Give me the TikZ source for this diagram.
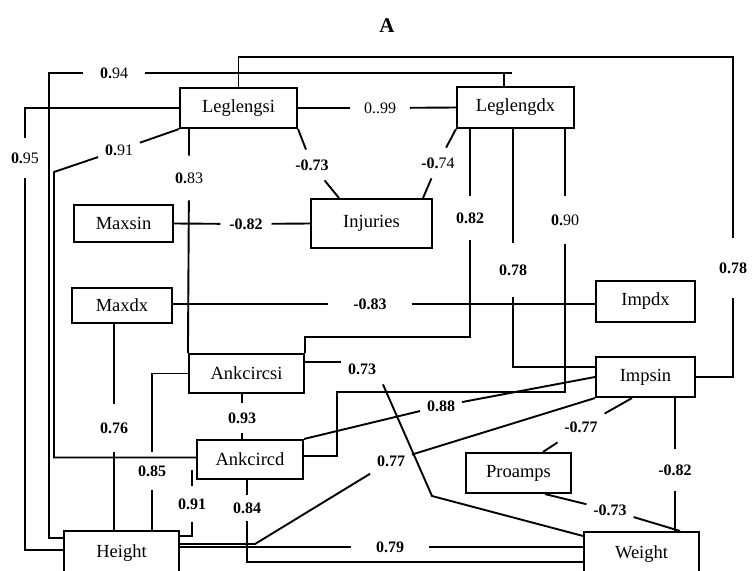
\documentclass[tikz,border=0pt]{standalone}
\usepackage{fontspec}
\setmainfont{Liberation Serif}

\tikzset{
  varbox/.style={draw,line width=2.1pt,inner sep=0pt,font=\fontsize{18.5}{22}\selectfont},
  coef/.style={inner xsep=6pt,inner ysep=9pt,font=\fontsize{16}{19}\selectfont\bfseries},
  coefn/.style={coef,font=\fontsize{16}{19}\selectfont},
  headline/.style={font=\fontsize{21}{24}\selectfont\bfseries}
}

\begin{document}
\begin{tikzpicture}[x=1pt,y=-1pt,line width=1.9pt]
\useasboundingbox (0,0) rectangle (756,571);
\node[headline] (ttl) at (387,26) {A};

%variables
\node[varbox,minimum width=117pt,minimum height=40pt] (leglengsi) at (238.5,108) {Leglengsi};
\node[varbox,minimum width=117pt,minimum height=41pt] (leglengdx) at (515.5,107.5) {Leglengdx};
\node[varbox,minimum width=121pt,minimum height=49pt] (injuries) at (371.5,223.5) {Injuries};
\node[varbox,minimum width=99pt,minimum height=37pt] (maxsin) at (123.5,223.5) {Maxsin};
\node[varbox,minimum width=100pt,minimum height=35pt] (maxdx) at (122,305.5) {Maxdx};
\node[varbox,minimum width=115pt,minimum height=39pt] (ankcircsi) at (246.5,373.5) {Ankcircsi};
\node[varbox,minimum width=106pt,minimum height=39pt] (ankcircd) at (250,459.5) {Ankcircd};
\node[varbox,minimum width=99pt,minimum height=41pt] (impdx) at (645.5,301.5) {Impdx};
\node[varbox,minimum width=99pt,minimum height=40pt] (impsin) at (645.5,377) {Impsin};
\node[varbox,minimum width=105pt,minimum height=40pt] (proamps) at (518.5,473) {Proamps};
\node[varbox,minimum width=115pt,minimum height=44pt] (height) at (121.5,553) {Height};
\node[varbox,minimum width=115pt,minimum height=44pt] (weight) at (641.5,554) {Weight};

%coefficients
\node[coefn,inner xsep=16pt] (t094) at (114,73) {\textbf{0.}94};
\node[coefn,inner ysep=14pt] (t095) at (25,158) {\textbf{0.}95};
\node[coefn] (t091a) at (119,150) {\textbf{0.}91};
\node[coefn,inner ysep=16pt] (t083) at (189,178) {\textbf{0.}83};
\node[coefn,inner xsep=13pt] (t099) at (380,108) {0..99};
\node[coef] (tm073a) at (312,165) {-0.73};
\node[coefn] (tm074) at (438,163) {\textbf{-0.}74};
\node[coef,inner ysep=16pt] (t082) at (470,218) {0.82};
\node[coef,inner ysep=21pt] (t078a) at (513,270) {0.78};
\node[coefn,inner ysep=18pt] (t090) at (565,220) {\textbf{0.}90};
\node[coef,inner ysep=24pt] (t078b) at (733,268) {0.78};
\node[coef,inner xsep=8pt] (tm082a) at (246,224) {-0.82};
\node[coef,inner xsep=24pt] (tm083) at (370,304) {-0.83};
\node[coef,inner ysep=18pt] (t076) at (114,428) {0.76};
\node[coef,inner ysep=13pt] (t085) at (152,471) {0.85};
\node[coef] (t093) at (242,418) {0.93};
\node[coef,inner ysep=12pt] (t091b) at (192,504) {0.91};
\node[coef,inner ysep=7pt] (t084) at (247,508) {0.84};
\node[coef] (t073) at (362,369) {0.73};
\node[coef] (t088) at (441,406) {0.88};
\node[coef] (t077) at (391,461) {0.77};
\node[coef,inner xsep=24pt] (t079) at (390,547) {0.79};
\node[coef] (tm077) at (581,427) {-0.77};
\node[coef,inner ysep=15pt] (tm082b) at (675,470) {-0.82};
\node[coef] (tm073b) at (610,510) {-0.73};

%Leglengsi links
\coordinate (c1) at (733,57);
\draw (leglengsi.north) |- (c1) -- (t078b) |- (impsin.east);
\coordinate (c2) at (49,73);
\coordinate (c3) at (512,73);
\draw ([yshift=15pt]height.west) -| (c2) -- (t094) -- (c3);
\draw ([xshift=-11.5pt]leglengdx.north) |- (c3);
\draw (leglengsi.west) -| (t095) |- ([yshift=3pt]height.west);
\coordinate (c4) at (54,172);
\draw (leglengsi.south west) -- (t091a) -- (c4) |- ([yshift=2pt]ankcircd.west);
\draw (leglengsi.south -| t083) -- (t083) -- (ankcircsi.north west);
\draw (leglengsi.east) -- (t099) -- (leglengdx.west);
\draw (leglengsi.south east) -- (tm073a) -- ([xshift=29pt]injuries.north west);

%Leglengdx links
\draw (leglengdx.south west) -- (tm074) -- ([xshift=-10pt]injuries.north east);
\coordinate (c9) at (470,337);
\draw (leglengdx.south -| t082) -- (t082) -- (c9) -| (ankcircsi.north east);
\draw (leglengdx.south -| t078a) -- (t078a) |- ([yshift=10pt]impsin.west);
\coordinate (c11) at (565,392);
\coordinate (c12) at (337,456);
\draw (leglengdx.south -| t090) -- (t090) -- (c11) -| (c12) -- (ankcircd.east |- c12);

%Max links
\draw (maxsin.east) -- (tm082a) -- (injuries.west);
\draw (maxdx.east |- tm083) -- (tm083) -- (impdx.west |- tm083);
\draw (maxdx.south -| t076) -- (t076) -- (height.north -| t076);

%Ankcirc links
\draw (ankcircsi.west) -| (t085) -- (height.north -| t085);
\draw (ankcircsi.south -| t093) -- (t093) -- (ankcircd.north -| t093);
\coordinate (c17) at (192,470);
\draw (c17) -- (t091b) |- ([yshift=17pt]height.east);
\draw (ankcircd.south -| t084) -- (t084) |- ([yshift=-8pt]weight.west);
\coordinate (c21) at (432,496);
\draw ([yshift=11.5pt]ankcircsi.east) -- ([yshift=7pt]t073.west);
\draw (t073.south east) -- (c21) -- ([yshift=-5pt]weight.north west);
\draw (ankcircd.north east) -- (t088) -- (impsin.west);

%Height links
\coordinate (c19) at (255,544);
\draw ([yshift=9pt]height.east) -- (c19) -- (t077) -- (impsin.south west);
\draw ([yshift=6pt]height.east) -- (t079) -- (weight.west |- t079);

%Imp links
\draw ([xshift=-13.5pt]impsin.south) -- (tm077) -- ([xshift=24.5pt]proamps.north);
\draw (impsin.south -| tm082b) -- (tm082b) -- (weight.north -| tm082b);
\draw ([xshift=26.5pt]proamps.south) -- (tm073b) -- ([xshift=38.5pt]weight.north);
\end{tikzpicture}
\end{document}
